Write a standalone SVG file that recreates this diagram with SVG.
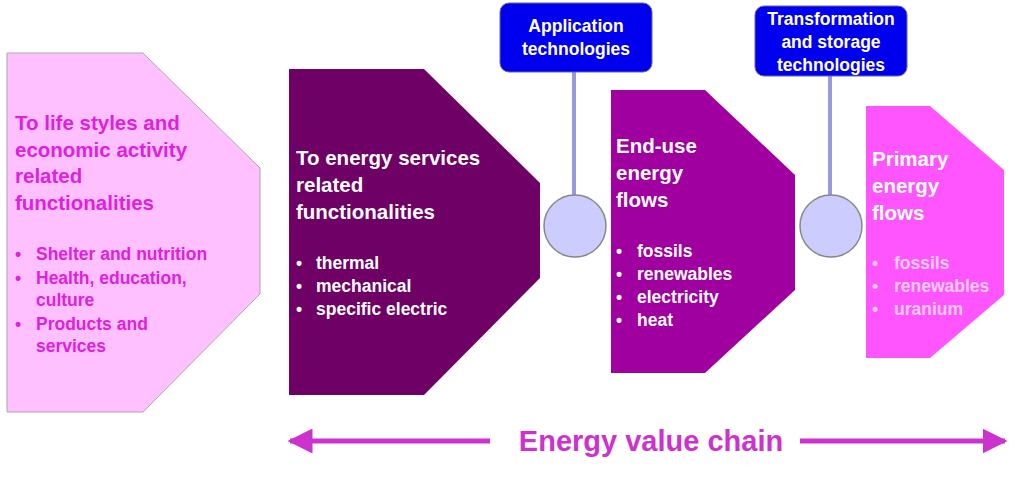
<svg xmlns="http://www.w3.org/2000/svg" width="1024" height="477" viewBox="0 0 1024 477">
<style>
text{font-family:"Liberation Sans",Arial,sans-serif;font-weight:bold}
.t{font-size:20.5px}.b{font-size:17.5px}
.w{fill:#fff}.p{fill:#e020e0}
.tech{fill:#0000ee;stroke:#6666aa;stroke-width:1}
.stem{stroke:#9999dd;stroke-width:4}
.circ{fill:#ccccff;stroke:#888;stroke-width:1.5}
</style>
<defs>
<marker id="ah" viewBox="0 0 10 10" refX="9" refY="5" markerWidth="5" markerHeight="5" orient="auto-start-reverse"><path d="M0,0L10,5L0,10z" fill="#cc33cc"/></marker>
</defs>
<g id="connectors">
<line class="stem" x1="574" y1="72" x2="574" y2="196"/>
<line class="stem" x1="830" y1="76" x2="830" y2="196"/>
<line x1="290" y1="441" x2="490" y2="441" stroke="#cc33cc" stroke-width="5" marker-start="url(#ah)"/>
<line x1="800" y1="441" x2="1005" y2="441" stroke="#cc33cc" stroke-width="5" marker-end="url(#ah)"/>
</g>
<g id="n1">
<path d="M7,53H143L260,168V294L143,412H7Z" fill="#ffc0ff" stroke="#aaa"/>
<text class="t p" x="15" y="130">To life styles and</text>
<text class="t p" x="15" y="157">economic activity</text>
<text class="t p" x="15" y="183">related</text>
<text class="t p" x="15" y="210">functionalities</text>
<text class="b p" x="15" y="260">•</text><text class="b p" x="36" y="260">Shelter and nutrition</text>
<text class="b p" x="15" y="284">•</text><text class="b p" x="36" y="284">Health, education,</text>
<text class="b p" x="36" y="306">culture</text>
<text class="b p" x="15" y="330">•</text><text class="b p" x="36" y="330">Products and</text>
<text class="b p" x="36" y="352">services</text>
</g>
<g id="n2">
<path d="M289,69H424L540,183V278L424,395H289Z" fill="#6e0066"/>
<text class="t w" x="296" y="165">To energy services</text>
<text class="t w" x="296" y="192">related</text>
<text class="t w" x="296" y="219">functionalities</text>
<text class="b w" x="296" y="269">•</text><text class="b w" x="316" y="269">thermal</text>
<text class="b w" x="296" y="292">•</text><text class="b w" x="316" y="292">mechanical</text>
<text class="b w" x="296" y="315">•</text><text class="b w" x="316" y="315">specific electric</text>
</g>
<g id="c1"><circle class="circ" cx="575" cy="226" r="31"/></g>
<g id="c2"><circle class="circ" cx="831" cy="226" r="31"/></g>
<g id="n3">
<path d="M611,90H705L795,175V290L705,373H611Z" fill="#a000a0"/>
<text class="t w" x="616" y="153">End-use</text>
<text class="t w" x="616" y="180">energy</text>
<text class="t w" x="616" y="207">flows</text>
<text class="b w" x="616" y="257">•</text><text class="b w" x="637" y="257">fossils</text>
<text class="b w" x="616" y="280">•</text><text class="b w" x="637" y="280">renewables</text>
<text class="b w" x="616" y="303">•</text><text class="b w" x="637" y="303">electricity</text>
<text class="b w" x="616" y="326">•</text><text class="b w" x="637" y="326">heat</text>
</g>
<g id="n4">
<path d="M866,106H930L1004,170V295L930,358H866Z" fill="#ff55ff"/>
<text class="t w" x="872" y="166">Primary</text>
<text class="t w" x="872" y="193">energy</text>
<text class="t w" x="872" y="220">flows</text>
<text class="b" fill="#ffccff" x="872" y="269">•</text><text class="b" fill="#ffccff" x="894" y="269">fossils</text>
<text class="b" fill="#ffccff" x="872" y="292">•</text><text class="b" fill="#ffccff" x="894" y="292">renewables</text>
<text class="b" fill="#ffccff" x="872" y="315">•</text><text class="b" fill="#ffccff" x="894" y="315">uranium</text>
</g>
<g id="tech1">
<rect class="tech" x="500" y="3" width="152" height="69" rx="9"/>
<text class="b w" x="576" y="32" text-anchor="middle">Application</text>
<text class="b w" x="576" y="55" text-anchor="middle">technologies</text>
</g>
<g id="tech2">
<rect class="tech" x="755" y="6" width="152" height="70" rx="9"/>
<text class="b w" x="831" y="25" text-anchor="middle">Transformation</text>
<text class="b w" x="831" y="48" text-anchor="middle">and storage</text>
<text class="b w" x="831" y="71" text-anchor="middle">technologies</text>
</g>
<g id="label">
<text x="651" y="451" font-size="29" fill="#cc33cc" text-anchor="middle">Energy value chain</text>
</g>
</svg>
